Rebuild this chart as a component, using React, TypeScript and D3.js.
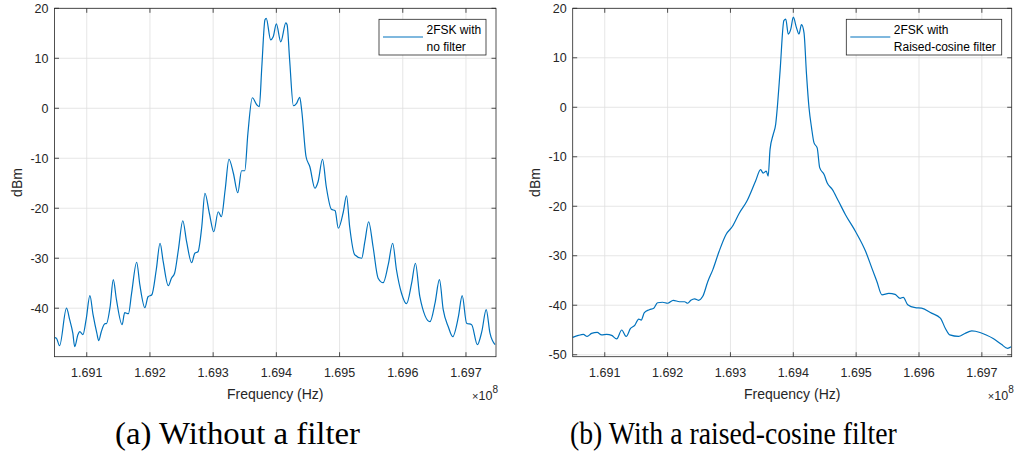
import React from 'react'
import * as d3 from 'd3'

// spectra: frequency in MHz, power in dBm
const freqNoFilter = [
  169.0495, 169.052, 169.057, 169.068, 169.073, 169.078, 169.081, 169.086, 169.089, 169.094,
  169.099, 169.105, 169.11, 169.116, 169.119, 169.123, 169.129, 169.131, 169.137, 169.142,
  169.147, 169.156, 169.16, 169.166, 169.171, 169.179, 169.184, 169.192, 169.197, 169.203,
  169.21, 169.216, 169.221, 169.229, 169.234, 169.239, 169.245, 169.252, 169.258, 169.266,
  169.271, 169.276, 169.282, 169.287, 169.294, 169.301, 169.308, 169.313, 169.319, 169.325,
  169.332, 169.339, 169.345, 169.35, 169.355, 169.362, 169.369, 169.373, 169.377, 169.382,
  169.384, 169.391, 169.395, 169.4, 169.407, 169.415, 169.417, 169.421, 169.427, 169.432,
  169.437, 169.44, 169.447, 169.453, 169.461, 169.466, 169.473, 169.479, 169.487, 169.493,
  169.498, 169.506, 169.511, 169.516, 169.524, 169.535, 169.54, 169.546, 169.553, 169.561,
  169.569, 169.577, 169.584, 169.59, 169.598, 169.606, 169.614, 169.62, 169.627, 169.643,
  169.651, 169.658, 169.664, 169.672, 169.679, 169.688, 169.694, 169.701, 169.709, 169.718,
  169.725, 169.732, 169.738, 169.746,
]
const dbmNoFilter = [
  -45.9, -46.0, -47.5, -40.0, -42.3, -45.0, -47.7, -45.3, -44.7, -45.3,
  -42.3, -37.5, -41.3, -45.0, -46.5, -44.7, -43.1, -43.1, -39.7, -34.3,
  -38.3, -43.3, -40.9, -41.1, -37.0, -30.8, -35.3, -39.9, -37.7, -37.3,
  -32.3, -27.0, -30.7, -35.5, -34.0, -33.0, -28.3, -22.5, -26.7, -30.9,
  -29.0, -28.7, -23.7, -17.0, -21.0, -24.7, -20.7, -21.7, -16.3, -10.2,
  -13.0, -16.9, -12.5, -12.5, -5.0, 2.1, 0.7, 0.3, 8.3, 17.7,
  18.0, 13.7, 14.3, 16.9, 13.3, 17.1, 16.7, 9.7, 0.5, 1.0,
  2.2, -0.3, -9.7, -11.7, -16.0, -14.7, -10.2, -15.7, -20.2, -20.5,
  -24.0, -20.7, -17.5, -23.7, -29.3, -30.0, -26.7, -22.7, -27.7, -34.0,
  -34.9, -31.3, -27.0, -32.3, -37.0, -39.1, -35.0, -31.0, -37.7, -42.7,
  -39.0, -34.3, -40.3, -43.7, -45.7, -41.7, -37.5, -43.0, -43.3, -47.3,
  -44.7, -40.3, -45.0, -47.3,
]

const freqRaisedCos = [
  169.049, 169.058, 169.066, 169.072, 169.079, 169.088, 169.095, 169.103, 169.111, 169.119,
  169.127, 169.134, 169.141, 169.148, 169.154, 169.158, 169.163, 169.171, 169.178, 169.184,
  169.192, 169.2, 169.209, 169.219, 169.227, 169.232, 169.237, 169.243, 169.249, 169.256,
  169.264, 169.272, 169.282, 169.293, 169.303, 169.314, 169.326, 169.34, 169.348, 169.352,
  169.357, 169.36, 169.363, 169.368, 169.372, 169.375, 169.379, 169.385, 169.388, 169.392,
  169.396, 169.4, 169.405, 169.409, 169.413, 169.417, 169.421, 169.425, 169.429, 169.433,
  169.438, 169.442, 169.449, 169.454, 169.462, 169.472, 169.483, 169.499, 169.515, 169.525,
  169.533, 169.541, 169.552, 169.562, 169.57, 169.575, 169.582, 169.594, 169.604, 169.62,
  169.634, 169.642, 169.649, 169.663, 169.673, 169.684, 169.697, 169.707, 169.718, 169.731,
  169.741, 169.7465,
]
const dbmRaisedCos = [
  -46.5, -46.1, -45.9, -46.3, -45.7, -45.5, -46.0, -45.9, -46.1, -46.8,
  -45.0, -46.3, -44.7, -44.0, -42.8, -43.0, -41.5, -40.9, -40.6, -39.5,
  -39.4, -39.6, -39.0, -39.3, -39.3, -39.6, -39.0, -38.7, -39.0, -38.2,
  -35.2, -32.8, -29.1, -25.7, -24.1, -21.4, -19.0, -14.9, -12.6, -13.3,
  -12.9, -13.9, -8.5, -5.5, -3.4, 0.6, 7.4, 17.5, 17.8, 14.8,
  15.8, 18.2, 16.1, 14.8, 16.7, 15.1, 6.7, -0.1, -4.1, -7.2,
  -8.2, -12.2, -13.6, -15.3, -16.6, -19.0, -21.7, -25.1, -29.1, -32.5,
  -35.2, -37.9, -37.6, -37.8, -38.6, -38.4, -39.9, -40.5, -40.6, -41.6,
  -42.6, -44.7, -46.0, -46.3, -45.7, -45.2, -45.5, -46.0, -46.7, -47.9,
  -48.7, -48.4,
]

const xTicks = [169.1, 169.2, 169.3, 169.4, 169.5, 169.6, 169.7]
const xTickLabels = ['1.691', '1.692', '1.693', '1.694', '1.695', '1.696', '1.697']
const yTicksA = [-40, -30, -20, -10, 0, 10, 20]
const yTicksB = [-50, -40, -30, -20, -10, 0, 10, 20]
const legendA = ['2FSK with', 'no filter']
const legendB = ['2FSK with', 'Raised-cosine filter']
const captionA = '(a) Without a filter'
const captionB = '(b) With a raised-cosine filter'

const sans = '"Liberation Sans", Arial, sans-serif'
const ink = '#262626'
const TOP = 8.3
const BOTTOM = 356.7

const Panel = ({ freq, dbm, x0, x1, yMin, yTicks, legend, legendW, caption, capX, capW, labelX }) => {
  const x = d3.scaleLinear().domain([169.049, 169.7475]).range([x0, x1])
  const y = d3.scaleLinear().domain([yMin, 20]).range([BOTTOM, TOP])
  const pts = freq.map((f, i) => [f, dbm[i]])
  const path = d3
    .line()
    .x(d => x(d[0]))
    .y(d => y(d[1]))
    .curve(d3.curveMonotoneX)(pts)
  const tk = 4.5
  const lgR = x1 - 10
  const lgL = lgR - legendW
  const lgT = 19.3

  return (
    <g>
      {/* grid */}
      {xTicks.map(t => (
        <line key={'gx' + t} x1={x(t)} x2={x(t)} y1={TOP} y2={BOTTOM} stroke="#dfdfdf" strokeWidth={0.8} />
      ))}
      {yTicks.map(t => (
        <line key={'gy' + t} x1={x0} x2={x1} y1={y(t)} y2={y(t)} stroke="#dfdfdf" strokeWidth={0.8} />
      ))}

      <path d={path} fill="none" stroke="#0072BD" strokeWidth={1.2} />

      {/* box + inward ticks */}
      <rect x={x0} y={TOP} width={x1 - x0} height={BOTTOM - TOP} fill="none" stroke={ink} strokeWidth={0.8} />
      {xTicks.map(t => (
        <g key={'tx' + t}>
          <line x1={x(t)} x2={x(t)} y1={BOTTOM} y2={BOTTOM - tk} stroke={ink} strokeWidth={0.8} />
          <line x1={x(t)} x2={x(t)} y1={TOP} y2={TOP + tk} stroke={ink} strokeWidth={0.8} />
        </g>
      ))}
      {yTicks.map(t => (
        <g key={'ty' + t}>
          <line x1={x0} x2={x0 + tk} y1={y(t)} y2={y(t)} stroke={ink} strokeWidth={0.8} />
          <line x1={x1} x2={x1 - tk} y1={y(t)} y2={y(t)} stroke={ink} strokeWidth={0.8} />
        </g>
      ))}

      {/* tick labels */}
      {xTicks.map((t, i) => (
        <text key={'lx' + t} x={x(t)} y={376.7} textAnchor="middle" fontFamily={sans} fontSize={12.5} fill={ink}>
          {xTickLabels[i]}
        </text>
      ))}
      {yTicks.map(t => (
        <text key={'ly' + t} x={x0 - 6} y={y(t) + 4.5} textAnchor="end" fontFamily={sans} fontSize={12.5} fill={ink}>
          {t}
        </text>
      ))}

      <text x={(x0 + x1) / 2} y={399} textAnchor="middle" fontFamily={sans} fontSize={14} fill={ink}>
        Frequency (Hz)
      </text>
      <text x={x1 + 2} y={400} textAnchor="end" fontFamily={sans} fontSize={12.5} fill={ink}>
        <tspan fontSize={11}>×</tspan>
        <tspan>10</tspan>
        <tspan dy={-7} fontSize={10}>8</tspan>
      </text>
      <text
        transform={`translate(${labelX},${(TOP + BOTTOM) / 2}) rotate(-90)`}
        textAnchor="middle"
        fontFamily={sans}
        fontSize={14}
        fill={ink}
      >
        dBm
      </text>

      {/* legend */}
      <rect x={lgL} y={lgT} width={legendW} height={35.7} fill="#fff" stroke={ink} strokeWidth={0.8} />
      <line x1={lgL + 4} x2={lgL + 44} y1={37} y2={37} stroke="#0072BD" strokeWidth={1.2} />
      <text x={lgL + 47.5} y={34} fontFamily={sans} fontSize={12} fill="#000">
        {legend[0]}
      </text>
      <text x={lgL + 47.5} y={50.5} fontFamily={sans} fontSize={12} fill="#000">
        {legend[1]}
      </text>

      <text
        x={capX}
        y={444}
        fontFamily='"Liberation Serif", "Times New Roman", serif'
        fontSize={31}
        fill="#000"
        textLength={capW}
        lengthAdjust="spacingAndGlyphs"
      >
        {caption}
      </text>
    </g>
  )
}

export default function App() {
  return (
    <svg
      width={1018}
      height={458}
      viewBox="0 0 1018 458"
      style={{ position: 'absolute', left: 0, top: 0, background: '#fff' }}
    >
      <rect width={1018} height={458} fill="#fff" />
      <Panel
        freq={freqNoFilter}
        dbm={dbmNoFilter}
        x0={54.5}
        x1={496}
        yMin={-49.7}
        yTicks={yTicksA}
        legend={legendA}
        legendW={107}
        caption={captionA}
        capX={115}
        capW={245}
        labelX={21.5}
      />
      <Panel
        freq={freqRaisedCos}
        dbm={dbmRaisedCos}
        x0={572.7}
        x1={1011.7}
        yMin={-50.4}
        yTicks={yTicksB}
        legend={legendB}
        legendW={155.4}
        caption={captionB}
        capX={570}
        capW={326.7}
        labelX={539.5}
      />
    </svg>
  )
}
